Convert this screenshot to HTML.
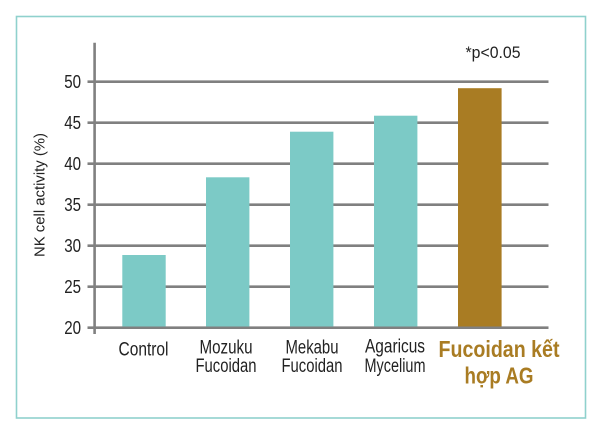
<!DOCTYPE html>
<html><head><meta charset="utf-8"><style>
html,body{margin:0;padding:0;background:#fff;}
svg{display:block;}
text{font-family:"Liberation Sans","DejaVu Sans",sans-serif;}
</style></head><body>
<svg width="600" height="431" viewBox="0 0 600 431" xmlns="http://www.w3.org/2000/svg">
<rect x="0" y="0" width="600" height="431" fill="#fff"/>
<rect x="16.5" y="16.5" width="569" height="401.5" fill="none" stroke="#8fd1cd" stroke-width="1.6"/>
<g stroke="#808080" stroke-width="2.6">
<line x1="87.5" y1="81.7" x2="548.5" y2="81.7"/>
<line x1="87.5" y1="122.7" x2="548.5" y2="122.7"/>
<line x1="87.5" y1="163.7" x2="548.5" y2="163.7"/>
<line x1="87.5" y1="204.7" x2="548.5" y2="204.7"/>
<line x1="87.5" y1="245.7" x2="548.5" y2="245.7"/>
<line x1="87.5" y1="286.7" x2="548.5" y2="286.7"/>
<line x1="87.5" y1="327.7" x2="548.5" y2="327.7"/>
<line x1="94.6" y1="42.7" x2="94.6" y2="334"/>
</g>
<g fill="#7ccac6">
<rect x="122.3" y="255" width="43.4" height="71.5"/>
<rect x="206" y="177.3" width="43.4" height="149.2"/>
<rect x="290" y="131.7" width="43.4" height="194.8"/>
<rect x="374" y="115.7" width="43.4" height="210.8"/>
</g>
<rect x="458" y="88.2" width="43.6" height="238.3" fill="#a97c23"/>
<g font-size="18" fill="#222" text-anchor="end">
<text x="81" y="88.2" textLength="16.8" lengthAdjust="spacingAndGlyphs">50</text>
<text x="81" y="129.2" textLength="16.8" lengthAdjust="spacingAndGlyphs">45</text>
<text x="81" y="170.2" textLength="16.8" lengthAdjust="spacingAndGlyphs">40</text>
<text x="81" y="211.2" textLength="16.8" lengthAdjust="spacingAndGlyphs">35</text>
<text x="81" y="252.2" textLength="16.8" lengthAdjust="spacingAndGlyphs">30</text>
<text x="81" y="293.2" textLength="16.8" lengthAdjust="spacingAndGlyphs">25</text>
<text x="81" y="334.2" textLength="16.8" lengthAdjust="spacingAndGlyphs">20</text>
</g>
<text transform="translate(44.5,195) rotate(-90)" font-size="14.5" fill="#222" text-anchor="middle" textLength="124" lengthAdjust="spacingAndGlyphs">NK cell activity (%)</text>
<text x="465.5" y="58" font-size="16.5" fill="#222" textLength="55" lengthAdjust="spacingAndGlyphs">*p&lt;0.05</text>
<g font-size="19" fill="#222" text-anchor="middle">
<text x="143.5" y="355.5" textLength="50" lengthAdjust="spacingAndGlyphs">Control</text>
<text x="226" y="353.5" textLength="53" lengthAdjust="spacingAndGlyphs">Mozuku</text>
<text x="226" y="372" textLength="61" lengthAdjust="spacingAndGlyphs">Fucoidan</text>
<text x="312" y="353.5" textLength="53" lengthAdjust="spacingAndGlyphs">Mekabu</text>
<text x="312" y="372" textLength="61" lengthAdjust="spacingAndGlyphs">Fucoidan</text>
<text x="395" y="352.5" textLength="60" lengthAdjust="spacingAndGlyphs">Agaricus</text>
<text x="395" y="372" textLength="61" lengthAdjust="spacingAndGlyphs">Mycelium</text>
</g>
<g font-size="23.5" font-weight="bold" fill="#a97c23" text-anchor="middle">
<text x="499" y="357" textLength="121" lengthAdjust="spacingAndGlyphs">Fucoidan kết</text>
<text x="499" y="383.5" textLength="69" lengthAdjust="spacingAndGlyphs">hợp AG</text>
</g>
</svg>
</body></html>
